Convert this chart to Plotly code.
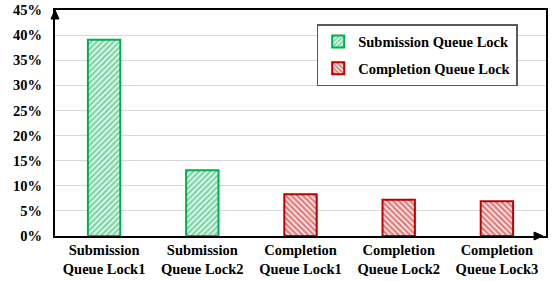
import plotly.graph_objects as go

categories = ["Submission<br>Queue Lock1", "Submission<br>Queue Lock2",
              "Completion<br>Queue Lock1", "Completion<br>Queue Lock2", "Completion<br>Queue Lock3"]
submission_values = [39.1, 13.1, None, None, None]
completion_values = [None, None, 8.3, 7.2, 6.9]
y_ticks = [0, 5, 10, 15, 20, 25, 30, 35, 40, 45]
y_tick_labels = ["0%", "5%", "10%", "15%", "20%", "25%", "30%", "35%", "40%", "45%"]

GREEN = "#00B050"
RED = "#C00000"
FONT = "Liberation Serif, Times New Roman, serif"

fig = go.Figure()
fig.add_trace(go.Bar(
    x=categories, y=submission_values, name="<b>Submission Queue Lock</b>",
    width=0.33, legendgroup="a",
    marker=dict(color="white", line=dict(color=GREEN, width=2),
                pattern=dict(shape="/", fgcolor=GREEN, bgcolor="white", size=4, solidity=0.65)),
))
fig.add_trace(go.Bar(
    x=categories, y=completion_values, name="<b>Completion Queue Lock</b>",
    width=0.33, legendgroup="b",
    marker=dict(color="white", line=dict(color=RED, width=2),
                pattern=dict(shape="\\", fgcolor=RED, bgcolor="white", size=4, solidity=0.65)),
))

fig.update_layout(
    width=553, height=281,
    margin=dict(l=55, r=7, t=10, b=45, autoexpand=False),
    paper_bgcolor="white", plot_bgcolor="white",
    barmode="overlay",
    font=dict(family=FONT, size=14.5, color="black"),
    showlegend=True,
    legend=dict(
        x=0.533, y=0.938, xanchor="left", yanchor="top",
        bordercolor="#595959", borderwidth=1.5, bgcolor="white",
        font=dict(family=FONT, size=14.5, color="black"),
        tracegroupgap=5, traceorder="grouped", itemwidth=30,
    ),
    xaxis=dict(
        type="category", showgrid=False, showline=True, linecolor="black", linewidth=2,
        mirror=True, ticks="", tickfont=dict(family=FONT, size=14.5, color="black"),
        tickangle=0, range=[-0.5, 4.5], automargin=False,
    ),
    yaxis=dict(
        range=[0, 45], tickvals=y_ticks, ticktext=["<b>%s</b>" % t for t in y_tick_labels],
        showgrid=True, gridcolor="#D9D9D9", gridwidth=1,
        showline=True, linecolor="black", linewidth=2, mirror=True,
        ticks="", ticklabelstandoff=8, zeroline=False, automargin=False,
        tickfont=dict(family=FONT, size=14.5, color="black"),
    ),
)
fig.update_xaxes(ticktext=["<b>%s</b>" % c for c in categories], tickvals=categories)

# axis arrowheads
fig.add_shape(type="path", xref="paper", yref="paper", xsizemode="pixel", ysizemode="pixel",
              xanchor=0, yanchor=1, path="M -4,-9 L 4,-9 L 0,0 Z",
              fillcolor="black", line=dict(color="black", width=1))
fig.add_shape(type="path", xref="paper", yref="paper", xsizemode="pixel", ysizemode="pixel",
              xanchor=0.994, yanchor=0, path="M -9,4 L -9,-4 L 0,0 Z",
              fillcolor="black", line=dict(color="black", width=1))

fig.write_html("out.html", config={"displayModeBar": False},
               post_script="document.body.style.margin='0';")
